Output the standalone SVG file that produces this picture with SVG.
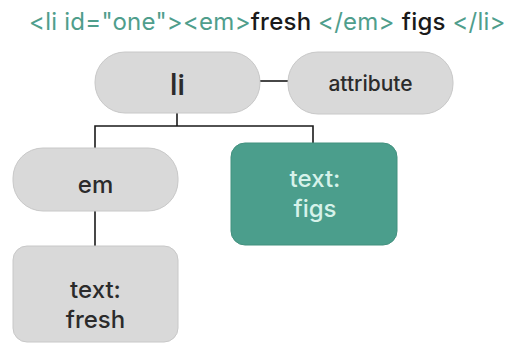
<svg xmlns="http://www.w3.org/2000/svg" width="515" height="345" viewBox="0 0 515 345">
  <style>
    .node { fill: #d9d9d9; stroke: #c8c8c8; stroke-width: 1; }
    .leaf { fill: #4b9e8c; stroke: #43917f; stroke-width: 1; }
    .lbl { font-family: Inter, "Noto Sans", sans-serif; font-weight: 500; fill: #2b2b2b; text-anchor: middle; }
    .lbl-light { font-family: Inter, "Noto Sans", sans-serif; font-weight: 500; fill: #d6f2ea; text-anchor: middle; }
    .edge { stroke: #1a1a1a; stroke-width: 1.6; fill: none; }
    .tag { fill: #4f9e8c; font-weight: 400; }
    .txt { fill: #1a1a1a; font-weight: 500; }
  </style>
  <rect width="515" height="345" fill="#ffffff"/>

  <!-- markup line -->
  <text x="29" y="30" font-family="Inter, 'Noto Sans', sans-serif" font-size="24" letter-spacing="0.25"><tspan class="tag">&lt;li id="one"&gt;&lt;em&gt;</tspan><tspan class="txt">fresh </tspan><tspan class="tag">&lt;/em&gt; </tspan><tspan class="txt">figs </tspan><tspan class="tag">&lt;/li&gt;</tspan></text>

  <!-- connectors -->
  <g id="connectors">
    <path class="edge" d="M260 81 H288"/>
    <path class="edge" d="M177 113 V126"/>
    <path class="edge" d="M95 148 V126 H313 V143"/>
    <path class="edge" d="M95 211 V246"/>
  </g>

  <g id="node-li">
    <rect class="node" x="95" y="52" width="165" height="61" rx="30"/>
    <text class="lbl" x="177.5" y="95" font-size="29" font-weight="700" style="font-family: Roboto, 'Liberation Sans', sans-serif">li</text>
  </g>

  <g id="node-attribute">
    <rect class="node" x="288" y="52" width="165" height="62" rx="30"/>
    <text class="lbl" x="370.5" y="91" font-size="21" font-weight="600">attribute</text>
  </g>

  <g id="node-em">
    <rect class="node" x="13" y="148" width="165" height="63" rx="30"/>
    <text class="lbl" x="95.5" y="193" font-size="24">em</text>
  </g>

  <g id="node-text-fresh">
    <rect class="node" x="13" y="246" width="165" height="96" rx="14"/>
    <text class="lbl" x="95.5" y="298" font-size="24">text:</text>
    <text class="lbl" x="95.5" y="328" font-size="24">fresh</text>
  </g>

  <g id="node-text-figs">
    <rect class="leaf" x="231" y="143" width="166" height="102" rx="14"/>
    <text class="lbl-light" x="315" y="187" font-size="24">text:</text>
    <text class="lbl-light" x="315" y="217" font-size="24">figs</text>
  </g>
</svg>
